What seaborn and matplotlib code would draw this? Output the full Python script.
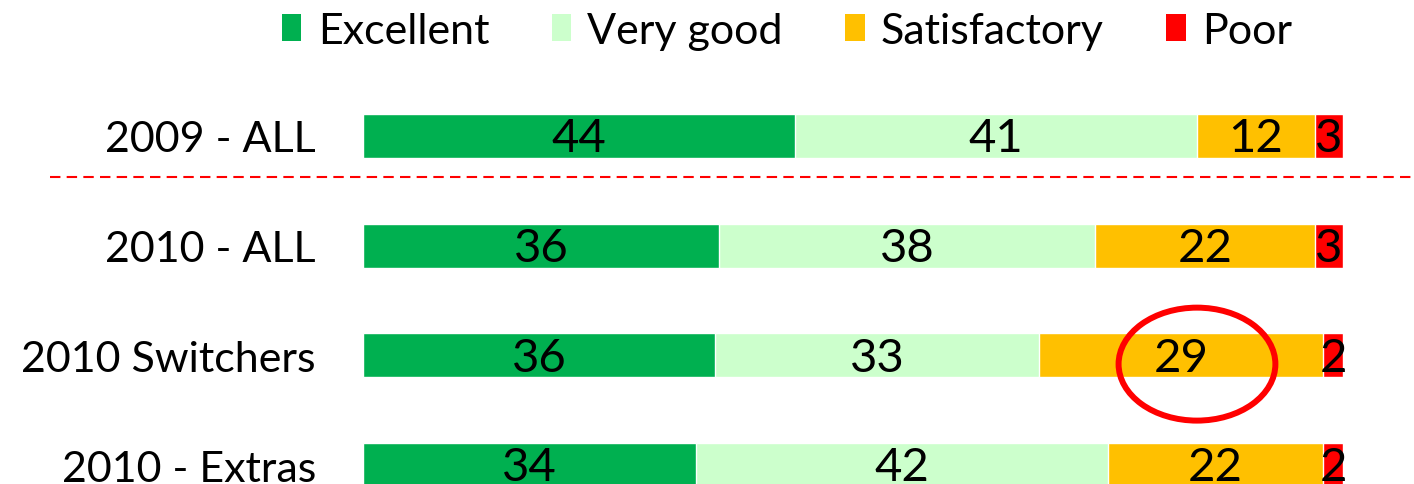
import numpy as np
import pandas as pd
import matplotlib.pyplot as plt
import seaborn as sns
from matplotlib.patches import Ellipse, Patch

groups = ["2009 - ALL", "2010 - ALL", "2010 Switchers", "2010 - Extras"]
ratings = ["Excellent", "Very good", "Satisfactory", "Poor"]
excellent = [44.1, 36.3, 35.9, 34.0]
very_good = [41.0, 38.4, 33.1, 42.0]
satisfactory = [12.0, 22.4, 29.0, 22.0]
poor = [2.9, 2.9, 2.0, 2.0]
colors = ["#00B050", "#CCFFCC", "#FFC000", "#FF0000"]

sns.set_theme(style="white")
plt.rcParams["font.family"] = ["Lato", "DejaVu Sans"]
plt.rcParams["text.color"] = "black"
plt.rcParams["ytick.color"] = "black"

vals = np.array([excellent, very_good, satisfactory, poor])
cum = vals.cumsum(axis=0)

rows = []
for i, r in enumerate(ratings):
    for j, g in enumerate(groups):
        rows.append({"Grupo": g, "Rating": r, "Valor": vals[i, j],
                     "Acum": cum[i, j]})
df = pd.DataFrame(rows)

W, H = 1414, 485
fig = plt.figure(figsize=(W / 100, H / 100), dpi=100)
ax = fig.add_axes([363 / W, 0, 980 / W, 400 / H])

# barras apiladas: se dibuja el acumulado de mayor a menor
for i in reversed(range(len(ratings))):
    sub = df[df["Rating"] == ratings[i]]
    sns.barplot(data=sub, y="Grupo", x="Acum", order=groups, orient="h",
                color=colors[i], width=0.4, saturation=1, ax=ax)

for _, row in df.iterrows():
    y = groups.index(row["Grupo"])
    ax.text(row["Acum"] - row["Valor"] / 2, y + 0.02, f"{row['Valor']:.0f}",
            ha="center", va="center", fontsize=34, color="black")

ax.set_xlim(0, 100)
ax.set_ylim(3.173, -0.474)
ax.set_xlabel("")
ax.set_ylabel("")
ax.set_xticks([])
ax.tick_params(axis="y", length=0, pad=34, labelsize=31, labelcolor="black")
sns.despine(ax=ax, left=True, bottom=True)

# separador 2009 / 2010
ax.axhline(0.374, xmin=-0.319, xmax=1.1, color="#FF0000", lw=1.5,
           ls=(0, (5, 3)), clip_on=False)

# circulo rojo alrededor del 29
ax.add_patch(Ellipse((85.1, 2.08), 16.0, 1.03, fill=False,
                     edgecolor="#FF0000", lw=4.3, clip_on=False))

handles = [Patch(facecolor=c, edgecolor="none") for c in colors]
fig.legend(handles, ratings, loc="center", bbox_to_anchor=(787 / W, 1 - 32 / H),
           ncol=4, frameon=False, fontsize=31, handlelength=0.45,
           handleheight=0.6, handletextpad=0.38, columnspacing=1.45)

fig.savefig("out.png", dpi=100)
